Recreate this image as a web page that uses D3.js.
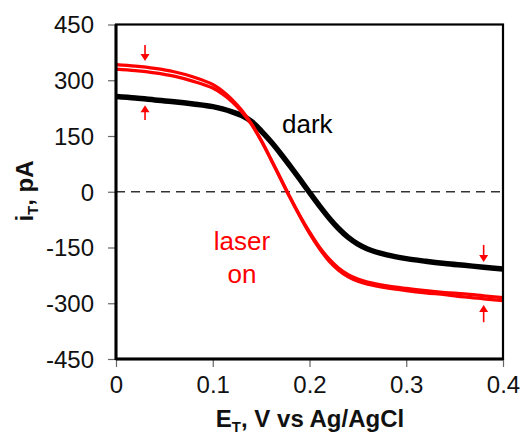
<!DOCTYPE html>
<html><head><meta charset="utf-8">
<script src="https://cdn.jsdelivr.net/npm/d3@7"></script>
<style>html,body{margin:0;padding:0;background:#fff;}svg{display:block;font-family:"Liberation Sans",Arial,sans-serif;}</style>
</head><body>
<svg id="c" width="524" height="440"></svg>
<script>
const potentials = [0,0.02,0.04,0.06,0.08,0.1,0.11,0.12,0.13,0.14,0.15,0.16,0.17,0.18,0.19,0.2,0.21,0.22,0.23,0.24,0.25,0.26,0.28,0.3,0.32,0.34,0.36,0.38,0.4];
const darkCurrent = [256,252,247,242,236,229,223,215,205,189,164,135,103,69,34,-2,-37,-70,-99,-123,-141,-154,-170,-180,-187,-193,-198,-203,-208];
const laserCurrentA = [342,338,332,323,309,289,271,248,219,183,139,89,37,-15,-64,-108,-148,-180,-205,-223,-235,-243,-253,-260,-266,-271,-275,-280,-285];
const laserCurrentB = [330,326,320,311,297,279,263,242,215,181,137,87,35,-17,-66,-112,-152,-186,-211,-229,-241,-249,-259,-266,-272,-277,-283,-288,-293];
const xTicks = [0,0.1,0.2,0.3,0.4];
const xTickLabels = ["0","0.1","0.2","0.3","0.4"];
const yTicks = [-450,-300,-150,0,150,300,450];
// arrows: [E, from current, to current]
const arrows = [[0.03,395,352],[0.03,193,233],[0.38,-143,-189],[0.38,-351,-305]];

const svg = d3.select("#c");
const L=116,R=503,T=24.5,B=359;
const x = d3.scaleLinear().domain([0,0.4]).range([L,R]);
const y = d3.scaleLinear().domain([-450,450]).range([B,T]);

// ticks
const yAxis = d3.axisLeft(y).tickValues(yTicks).tickSize(8).tickPadding(14).tickFormat(d=>d);
const gy = svg.append("g").attr("transform",`translate(${L},0)`).call(yAxis);
gy.select(".domain").remove();
gy.selectAll(".tick line").attr("stroke","#666").attr("stroke-width",1.2);
gy.selectAll(".tick text").attr("font-size",24).attr("fill","#111").attr("dy","0.35em").attr("font-family","Liberation Sans, Arial, sans-serif");

const xAxis = d3.axisBottom(x).tickValues(xTicks).tickSize(8).tickPadding(8).tickFormat((d,i)=>xTickLabels[i]);
const gx = svg.append("g").attr("transform",`translate(0,${B})`).call(xAxis);
gx.select(".domain").remove();
gx.selectAll(".tick line").attr("stroke","#666").attr("stroke-width",1.2);
gx.selectAll(".tick text").attr("font-size",24).attr("fill","#111").attr("dy","0.75em").attr("font-family","Liberation Sans, Arial, sans-serif");

// zero dashed line
svg.append("line").attr("x1",x(0)).attr("x2",x(0.4)).attr("y1",y(0)).attr("y2",y(0))
  .attr("stroke","#333").attr("stroke-width",1.5).attr("stroke-dasharray","9,6");

const line = d3.line().x((d,i)=>x(potentials[i])).y(d=>y(d)).curve(d3.curveCatmullRom.alpha(0.5));

svg.append("path").datum(darkCurrent).attr("d",line).attr("fill","none").attr("stroke","#000").attr("stroke-width",5.5);
svg.append("path").datum(laserCurrentB).attr("d",line).attr("fill","none").attr("stroke","#f00").attr("stroke-width",3.2);
svg.append("path").datum(laserCurrentA).attr("d",line).attr("fill","none").attr("stroke","#f00").attr("stroke-width",3.2);

// frame
svg.append("rect").attr("x",L).attr("y",T).attr("width",R-L).attr("height",B-T).attr("fill","none").attr("stroke","#000").attr("stroke-width",2.2);
svg.append("line").attr("x1",L).attr("x2",L).attr("y1",T).attr("y2",B+1).attr("stroke","#000").attr("stroke-width",3);
svg.append("line").attr("x1",L).attr("x2",R).attr("y1",B).attr("y2",B).attr("stroke","#000").attr("stroke-width",3);

// arrows
arrows.forEach(([e,a,b])=>{
  const xa=x(e), y1=y(a), y2=y(b);
  const dir = y2>y1?1:-1;
  svg.append("line").attr("x1",xa).attr("x2",xa).attr("y1",y1).attr("y2",y2-dir*6).attr("stroke","#f00").attr("stroke-width",1.6);
  svg.append("path").attr("d",`M${xa-4.5},${y2-dir*7}L${xa+4.5},${y2-dir*7}L${xa},${y2}Z`).attr("fill","#f00");
});

// labels
svg.append("text").attr("x",282).attr("y",133).attr("font-size",26).attr("fill","#000").text("dark");
svg.append("text").attr("x",242).attr("y",250).attr("font-size",26).attr("fill","#f00").attr("text-anchor","middle").text("laser");
svg.append("text").attr("x",242).attr("y",283).attr("font-size",26).attr("fill","#f00").attr("text-anchor","middle").text("on");

// axis titles
const xt = svg.append("text").attr("x",310).attr("y",427).attr("text-anchor","middle").attr("font-size",24).attr("font-weight","bold").attr("fill","#111");
xt.append("tspan").text("E");
xt.append("tspan").attr("font-size",15).attr("dy",5).text("T");
xt.append("tspan").attr("dy",-5).text(", V vs Ag/AgCl");

const yt = svg.append("text").attr("transform","translate(33,191) rotate(-90)").attr("text-anchor","middle").attr("font-size",24).attr("font-weight","bold").attr("fill","#111");
yt.append("tspan").text("i");
yt.append("tspan").attr("font-size",15).attr("dy",5).text("T");
yt.append("tspan").attr("dy",-5).text(", pA");
</script>
</body></html>
